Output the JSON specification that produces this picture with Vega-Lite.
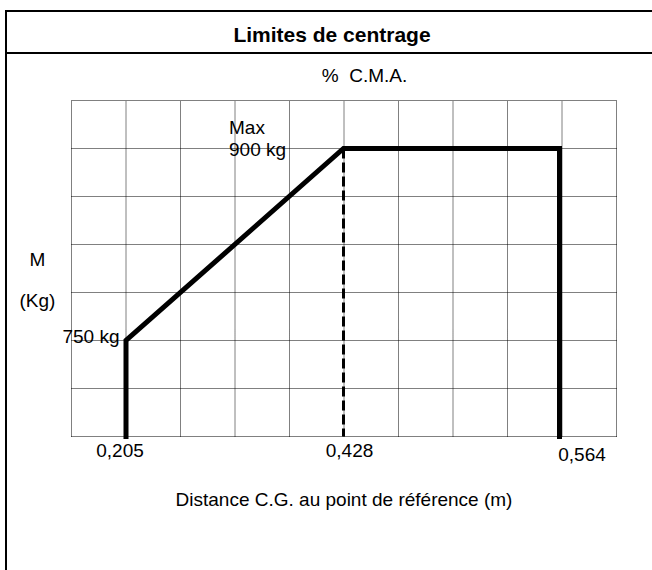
{
  "$schema": "https://vega.github.io/schema/vega-lite/v6.json",
  "padding": {"left": 5, "top": 10, "right": -4, "bottom": -14},
  "bounds": "flush",
  "spacing": 0,
  "config": {
    "view": {"stroke": "black", "strokeWidth": 2},
    "font": "Liberation Sans",
    "text": {"font": "Liberation Sans", "fontSize": 19, "color": "black"},
    "title": {"font": "Liberation Sans", "color": "black"},
    "axis": {"titleFont": "Liberation Sans", "titleFontSize": 19, "titleFontWeight": "normal", "titleColor": "black"}
  },
  "datasets": {
    "header": [{"title": "Limites de centrage"}],
    "envelope": [
      {"i": 1, "cg": 0.205, "kg": 675},
      {"i": 2, "cg": 0.205, "kg": 750},
      {"i": 3, "cg": 0.428, "kg": 900},
      {"i": 4, "cg": 0.564, "kg": 900},
      {"i": 5, "cg": 0.564, "kg": 675}
    ],
    "dashed": [{"cg": 0.428, "kg": 900, "kg2": 675}],
    "vgrid": [{"col": 0}, {"col": 1}, {"col": 2}, {"col": 3}, {"col": 4}, {"col": 5}, {"col": 6}, {"col": 7}, {"col": 8}, {"col": 9}, {"col": 10}],
    "hgrid": [{"kg": 675}, {"kg": 712.5}, {"kg": 750}, {"kg": 787.5}, {"kg": 825}, {"kg": 862.5}, {"kg": 900}, {"kg": 937.5}],
    "ticks": [
      {"cg": 0.205, "kg": 675, "label": "0,205"},
      {"cg": 0.428, "kg": 675, "label": "0,428"},
      {"cg": 0.564, "kg": 675, "label": "0,564"}
    ],
    "notes": [
      {"cg": 0.205, "kg": 750, "label": "750 kg"},
      {"cg": 0.428, "kg": 900, "label": "900 kg"},
      {"cg": 0.428, "kg": 900, "label": "Max"}
    ]
  },
  "vconcat": [
    {
      "width": 649,
      "height": 42,
      "view": {"stroke": "black", "strokeWidth": 2},
      "data": {"name": "header"},
      "mark": {"type": "text", "fontWeight": "bold", "fontSize": 21, "baseline": "alphabetic", "align": "center", "dx": 1.5, "dy": 10},
      "encoding": {
        "x": {"datum": 0.5, "type": "quantitative", "scale": {"domain": [0, 1], "nice": false, "zero": false}, "axis": null},
        "y": {"datum": 0.5, "type": "quantitative", "scale": {"domain": [0, 1], "nice": false, "zero": false}, "axis": null},
        "text": {"field": "title", "type": "nominal"}
      }
    },
    {
      "width": 649,
      "height": 530,
      "layer": [
        {
          "data": {"name": "vgrid"},
          "mark": {"type": "rule", "color": "#000", "strokeWidth": 1, "strokeDash": [1, 1]},
          "encoding": {
            "x": {"field": "col", "type": "quantitative", "scale": {"domain": [0, 10], "range": [65.5, 610.5], "nice": false, "zero": false}, "axis": null},
            "y": {"datum": 675, "type": "quantitative", "scale": {"domain": [675, 937.5], "range": [383.5, 47.5], "nice": false, "zero": false}, "axis": null},
            "y2": {"datum": 937.5}
          }
        },
        {
          "data": {"name": "hgrid"},
          "mark": {"type": "rule", "color": "#000", "strokeWidth": 1, "strokeDash": [1, 1]},
          "encoding": {
            "y": {"field": "kg", "type": "quantitative", "scale": {"domain": [675, 937.5], "range": [383.5, 47.5], "nice": false, "zero": false}, "axis": null},
            "x": {"datum": 0, "type": "quantitative", "scale": {"domain": [0, 10], "range": [65.5, 610.5], "nice": false, "zero": false}, "axis": null},
            "x2": {"datum": 10}
          }
        },
        {
          "data": {"name": "dashed"},
          "mark": {"type": "rule", "color": "black", "strokeWidth": 3, "strokeDash": [10, 4]},
          "encoding": {
            "x": {"field": "cg", "type": "quantitative", "scale": {"domain": [0.205, 0.428, 0.564], "range": [120, 337.5, 553.5], "nice": false, "zero": false},
                  "axis": {"orient": "top", "title": "% \u00a0C.M.A.", "labels": false, "ticks": false, "domain": false, "grid": false, "titleX": 358, "titleY": 28, "titleAlign": "center", "titleBaseline": "alphabetic"}},
            "y": {"field": "kg", "type": "quantitative", "scale": {"domain": [675, 937.5], "range": [383.5, 47.5], "nice": false, "zero": false}, "axis": null},
            "y2": {"field": "kg2"}
          }
        },
        {
          "data": {"name": "envelope"},
          "mark": {"type": "line", "color": "black", "strokeWidth": 5, "strokeJoin": "miter", "strokeCap": "square"},
          "encoding": {
            "x": {"field": "cg", "type": "quantitative", "scale": {"domain": [0.205, 0.428, 0.564], "range": [120, 337.5, 553.5], "nice": false, "zero": false},
                  "axis": {"title": "Distance C.G. au point de référence (m)", "labels": false, "ticks": false, "domain": false, "grid": false, "titleX": 337.5, "titleY": -78, "titleAlign": "center", "titleBaseline": "alphabetic"}},
            "y": {"field": "kg", "type": "quantitative", "scale": {"domain": [675, 937.5], "range": [383.5, 47.5], "nice": false, "zero": false},
                  "axis": {"title": ["M", "(Kg)"], "labels": false, "ticks": false, "domain": false, "grid": false, "titleAngle": 0, "titleX": 31, "titleY": 212, "titleAlign": "center", "titleBaseline": "alphabetic", "titleLineHeight": 41}},
            "order": {"field": "i", "type": "quantitative"}
          }
        },
        {
          "data": {"name": "ticks"},
          "transform": [{"filter": "datum.label == '0,205'"}],
          "mark": {"type": "text", "align": "center", "baseline": "alphabetic", "dx": -6, "dy": 20.5},
          "encoding": {
            "x": {"field": "cg", "type": "quantitative", "scale": {"domain": [0.205, 0.428, 0.564], "range": [120, 337.5, 553.5], "nice": false, "zero": false}, "axis": null},
            "y": {"field": "kg", "type": "quantitative", "scale": {"domain": [675, 937.5], "range": [383.5, 47.5], "nice": false, "zero": false}, "axis": null},
            "text": {"field": "label", "type": "nominal"}
          }
        },
        {
          "data": {"name": "ticks"},
          "transform": [{"filter": "datum.label == '0,428'"}],
          "mark": {"type": "text", "align": "center", "baseline": "alphabetic", "dx": 6, "dy": 20.5},
          "encoding": {
            "x": {"field": "cg", "type": "quantitative", "scale": {"domain": [0.205, 0.428, 0.564], "range": [120, 337.5, 553.5], "nice": false, "zero": false}, "axis": null},
            "y": {"field": "kg", "type": "quantitative", "scale": {"domain": [675, 937.5], "range": [383.5, 47.5], "nice": false, "zero": false}, "axis": null},
            "text": {"field": "label", "type": "nominal"}
          }
        },
        {
          "data": {"name": "ticks"},
          "transform": [{"filter": "datum.label == '0,564'"}],
          "mark": {"type": "text", "align": "center", "baseline": "alphabetic", "dx": 22.5, "dy": 24.5},
          "encoding": {
            "x": {"field": "cg", "type": "quantitative", "scale": {"domain": [0.205, 0.428, 0.564], "range": [120, 337.5, 553.5], "nice": false, "zero": false}, "axis": null},
            "y": {"field": "kg", "type": "quantitative", "scale": {"domain": [675, 937.5], "range": [383.5, 47.5], "nice": false, "zero": false}, "axis": null},
            "text": {"field": "label", "type": "nominal"}
          }
        },
        {
          "data": {"name": "notes"},
          "transform": [{"filter": "datum.label == '750 kg'"}],
          "mark": {"type": "text", "align": "right", "baseline": "alphabetic", "dx": -6.5, "dy": 2.5},
          "encoding": {
            "x": {"field": "cg", "type": "quantitative", "scale": {"domain": [0.205, 0.428, 0.564], "range": [120, 337.5, 553.5], "nice": false, "zero": false}, "axis": null},
            "y": {"field": "kg", "type": "quantitative", "scale": {"domain": [675, 937.5], "range": [383.5, 47.5], "nice": false, "zero": false}, "axis": null},
            "text": {"field": "label", "type": "nominal"}
          }
        },
        {
          "data": {"name": "notes"},
          "transform": [{"filter": "datum.label == '900 kg'"}],
          "mark": {"type": "text", "align": "left", "baseline": "alphabetic", "dx": -114.5, "dy": 7.5},
          "encoding": {
            "x": {"field": "cg", "type": "quantitative", "scale": {"domain": [0.205, 0.428, 0.564], "range": [120, 337.5, 553.5], "nice": false, "zero": false}, "axis": null},
            "y": {"field": "kg", "type": "quantitative", "scale": {"domain": [675, 937.5], "range": [383.5, 47.5], "nice": false, "zero": false}, "axis": null},
            "text": {"field": "label", "type": "nominal"}
          }
        },
        {
          "data": {"name": "notes"},
          "transform": [{"filter": "datum.label == 'Max'"}],
          "mark": {"type": "text", "align": "left", "baseline": "alphabetic", "dx": -114.5, "dy": -15},
          "encoding": {
            "x": {"field": "cg", "type": "quantitative", "scale": {"domain": [0.205, 0.428, 0.564], "range": [120, 337.5, 553.5], "nice": false, "zero": false}, "axis": null},
            "y": {"field": "kg", "type": "quantitative", "scale": {"domain": [675, 937.5], "range": [383.5, 47.5], "nice": false, "zero": false}, "axis": null},
            "text": {"field": "label", "type": "nominal"}
          }
        }
      ],
      "resolve": {"scale": {"x": "independent"}, "axis": {"y": "independent"}}
    }
  ]
}
